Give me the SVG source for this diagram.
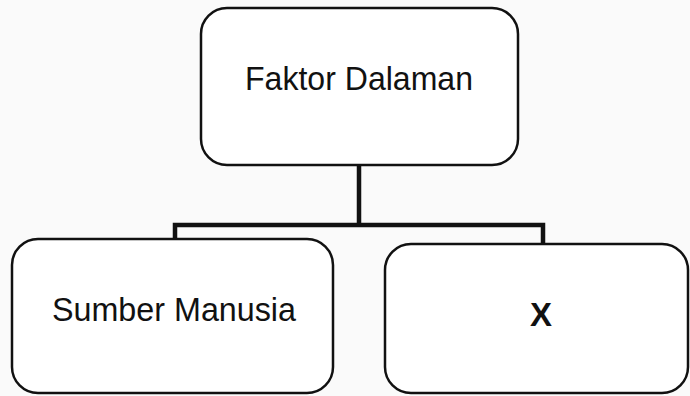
<svg xmlns="http://www.w3.org/2000/svg" width="690" height="396" viewBox="0 0 690 396">
<style>
.box{fill:#fff;stroke:#111;stroke-width:2.5}
.lbl{font-family:"Liberation Sans",Arial,sans-serif;font-size:33px;fill:#111;text-anchor:middle}
.conn{fill:none;stroke:#111;stroke-width:4.5}
</style>
<rect width="690" height="396" fill="#fafafa"/>
<g id="connectors">
<path class="conn" d="M359 165 V225 M175 241 V225 H543 V245"/>
</g>
<g id="faktor-dalaman">
<rect class="box" x="201" y="8" width="317" height="157" rx="26"/>
<text class="lbl" x="359" y="90" textLength="228" lengthAdjust="spacingAndGlyphs">Faktor Dalaman</text>
</g>
<g id="sumber-manusia">
<rect class="box" x="12" y="239" width="321" height="154" rx="26"/>
<text class="lbl" x="174" y="321" textLength="244" lengthAdjust="spacingAndGlyphs">Sumber Manusia</text>
</g>
<g id="x">
<rect class="box" x="385" y="244" width="303" height="149" rx="26"/>
<text class="lbl" x="541" y="326" font-weight="bold" textLength="22" lengthAdjust="spacingAndGlyphs">X</text>
</g>
</svg>
